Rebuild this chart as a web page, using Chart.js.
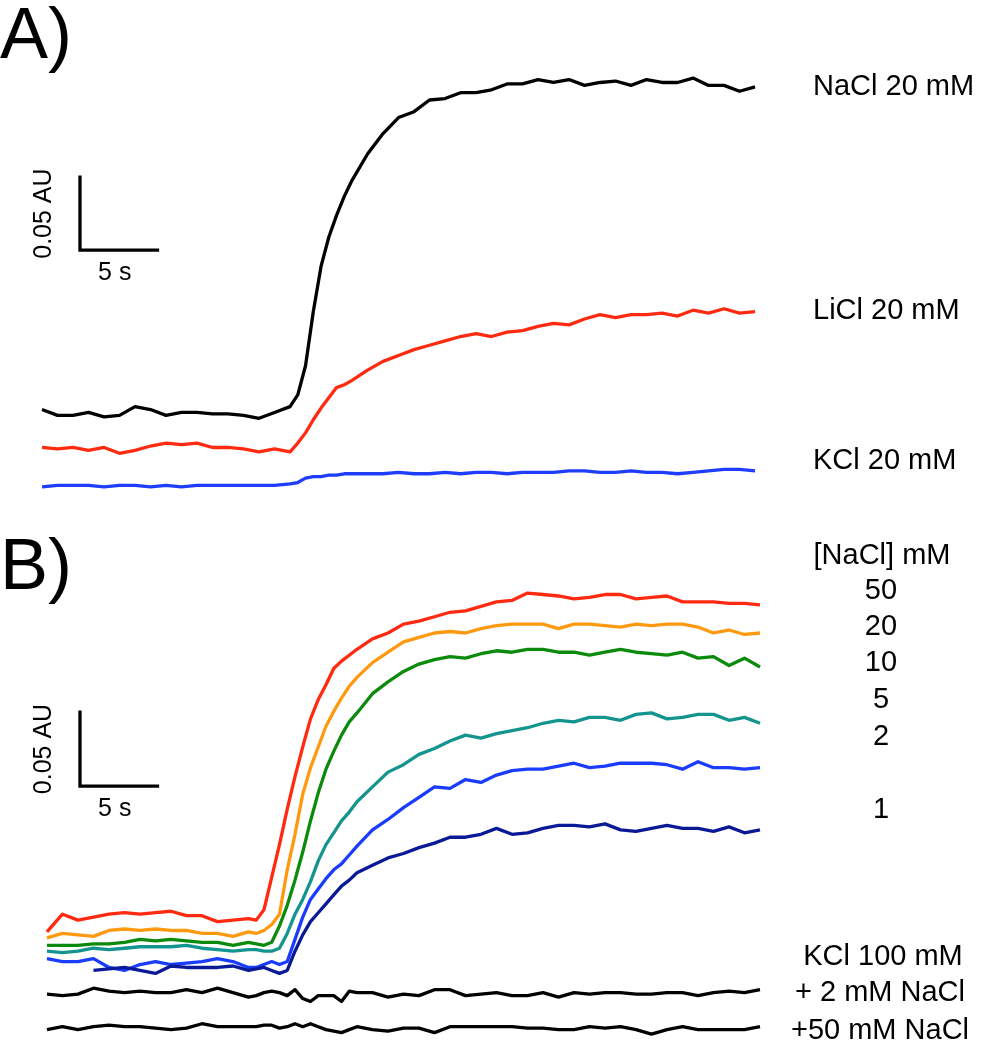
<!DOCTYPE html>
<html>
<head>
<meta charset="utf-8">
<script src="https://cdn.jsdelivr.net/npm/chart.js@4.4.1/dist/chart.umd.min.js"></script>
<style>
  html, body { margin: 0; padding: 0; background: #fff; }
  canvas { display: block; }
</style>
</head>
<body>
<canvas id="panelA" width="995" height="525"></canvas>
<canvas id="panelB" width="995" height="525"></canvas>
<script>
// time in s, absorbance in mAU (traces offset as in the figure)
const timeA = [0,1,2,3,4,5,6,7,8,9,10,11,12,13,14,15,16,16.5,17,17.5,18,18.5,19,19.5,20,
  21,22,23,24,25,26,27,28,29,30,31,32,33,34,35,36,37,38,39,40,41,42,43,44,45,46];

const naclA = [62,58,58,60,57,58,64,62,58,60,60,59,59,58,56,60,64,72,92,129,160,180,195,208,219,
  237,251,262,266,274,275,279,279,281,285,285,288,286,288,284,286,287,284,288,286,286,289,284,284,280,283];
const liclA = [36,35,36,34,36,32,34,37,39,38,39,36,36,35,33,35,33,39,46,55,63,70,77,79,82,
  89,95,99,103,106,109,112,114,112,115,116,119,121,120,124,127,125,127,127,128,126,130,128,131,128,129];
const kclA = [9,10,10,10,9,10,10,9,10,9,10,10,10,10,10,10,11,12,15,16,16,17,17,18,18,
  18,18,19,18,18,19,18,19,19,18,19,19,19,20,20,19,19,20,19,19,18,19,20,21,21,20];

const timeB = [0,1,2,3,4,5,6,7,8,9,10,11,12,13,13.5,14,14.5,15,15.5,16,16.5,17,17.5,18,18.5,19,19.5,20,
  21,22,23,24,25,26,27,28,29,30,31,32,33,34,35,36,37,38,39,40,41,42,43,44,45,46];

const nacl50 = [73,85,81,83,85,86,85,86,87,84,84,80,81,82,81,88,110,132,156,178,198,217,230,240,251,256,260,264,
  271,275,281,283,286,289,290,293,296,297,302,301,300,298,299,301,301,298,299,300,296,296,296,295,295,294];
const nacl20 = [69,72,71,70,74,75,74,75,74,74,72,72,70,73,72,74,78,85,115,139,166,184,198,212,222,231,239,245,
  255,262,269,272,275,276,275,278,280,281,281,281,278,281,281,280,279,281,280,281,281,279,275,277,274,275];
const nacl10 = [64,64,64,65,65,66,68,67,68,67,66,66,64,66,65,64,66,77,91,108,127,148,167,183,195,206,215,221,
  234,242,249,254,257,259,258,261,263,262,264,264,262,262,260,262,264,262,261,260,262,258,259,253,258,252];
const nacl5 = [60,59,60,62,61,62,63,63,63,64,62,61,60,61,61,60,60,62,72,85,95,107,121,132,140,148,154,161,
  171,181,186,193,197,202,206,204,207,209,211,214,216,215,218,218,216,220,221,217,218,220,220,216,218,214];
const nacl2 = [55,53,53,55,49,47,51,53,51,52,53,55,53,49,49,51,53,51,53,68,83,95,102,109,115,119,125,131,
  142,149,157,164,171,170,176,174,179,182,183,183,185,187,184,185,187,187,187,186,183,188,184,184,183,184];
const nacl1 = [null,null,null,47,48,49,47,45,50,49,49,49,50,47,48,49,47,45,47,60,71,80,86,92,98,104,108,113,
  118,123,126,130,133,137,137,139,143,139,140,143,145,145,144,146,142,141,143,145,143,143,141,144,140,142];
const kcl2mM = [31,30,31,35,33,32,33,32,32,34,32,35,32,29,30,32,33,32,30,34,28,26,30,30,30,26,33,32,
  32,29,31,30,34,34,30,31,32,30,30,32,29,32,31,32,32,31,31,32,32,30,32,33,32,34];
const kcl50mM = [7,9,7,9,10,9,9,8,7,8,11,9,9,9,9,10,10,8,9,11,9,11,9,7,6,5,7,9,
  7,6,8,8,5,9,9,9,9,9,8,8,7,7,9,8,9,7,4,7,9,7,7,7,7,9];

// scale bars: 0.05 AU (50 mAU) x 5 s
const barA = { x: [2.45, 2.45, 7.45], y: [221.2, 171.2, 171.2] };
const barB = { x: [2.13, 2.13, 7.13], y: [221.6, 171.6, 171.6] };

const FONT = '"Liberation Sans", Arial, Helvetica, sans-serif';

function pts(t, v) {
  return t.map((x, i) => ({ x, y: v[i] })).filter(p => p.y != null);
}

function trace(label, t, v, color) {
  return {
    label, data: pts(t, v), borderColor: color, borderWidth: 3.3,
    pointRadius: 0, tension: 0, borderJoinStyle: 'round'
  };
}

function scaleBar(bar) {
  return {
    label: 'scale', data: pts(bar.x, bar.y), borderColor: '#000', borderWidth: 3.3,
    pointRadius: 0, tension: 0, borderJoinStyle: 'miter', borderCapStyle: 'square'
  };
}

// panel letter, scale bar captions and trace labels
function textPlugin(spec) {
  return {
    id: 'panelText',
    afterDatasetsDraw(chart) {
      const { ctx, scales } = chart;
      const bx = scales.x.getPixelForValue(spec.bar.x[0]);
      const bx2 = scales.x.getPixelForValue(spec.bar.x[2]);
      const top = scales.y.getPixelForValue(spec.bar.y[0]);
      const bot = scales.y.getPixelForValue(spec.bar.y[1]);
      ctx.save();
      ctx.fillStyle = '#000';
      ctx.textAlign = 'left';
      ctx.textBaseline = 'alphabetic';
      ctx.font = `72px ${FONT}`;
      ctx.fillText(spec.letter, 0, spec.letterY);

      ctx.font = `25px ${FONT}`;
      ctx.textAlign = 'center';
      ctx.textBaseline = 'middle';
      ctx.fillText('5 s', (bx + bx2) / 2 - 4, bot + 23);
      ctx.save();
      ctx.translate(bx - 36, (top + bot) / 2);
      ctx.rotate(-Math.PI / 2);
      ctx.fillText('0.05 AU', 0, 0);
      ctx.restore();

      ctx.font = `${spec.size}px ${FONT}`;
      ctx.textAlign = spec.align;
      spec.labels.forEach(l => ctx.fillText(l.text, l.x, l.y));
      ctx.restore();
    }
  };
}

function makePanel(id, datasets, xr, yr, spec) {
  return new Chart(document.getElementById(id), {
    type: 'line',
    data: { datasets },
    options: {
      responsive: false,
      animation: false,
      layout: { padding: 0 },
      scales: {
        x: { type: 'linear', display: false, min: xr[0], max: xr[1] },
        y: { type: 'linear', display: false, min: yr[0], max: yr[1] }
      },
      plugins: { legend: { display: false }, tooltip: { enabled: false } }
    },
    plugins: [textPlugin(spec)]
  });
}

makePanel('panelA', [
  trace('KCl 20 mM', timeA, kclA, '#1f3dff'),
  trace('LiCl 20 mM', timeA, liclA, '#ff2a10'),
  trace('NaCl 20 mM', timeA, naclA, '#000000'),
  scaleBar(barA)
], [-2.71, 61.48], [-17.1, 342.5], {
  letter: 'A)', letterY: 58, bar: barA, align: 'left', size: 29,
  labels: [
    { text: 'NaCl 20 mM', x: 813, y: 87 },
    { text: 'LiCl 20 mM', x: 813, y: 311 },
    { text: 'KCl 20 mM', x: 813, y: 461 }
  ]
});

makePanel('panelB', [
  trace('+50 mM NaCl', timeB, kcl50mM, '#000000'),
  trace('+ 2 mM NaCl', timeB, kcl2mM, '#000000'),
  trace('1', timeB, nacl1, '#0a1a96'),
  trace('2', timeB, nacl2, '#1a3cff'),
  trace('5', timeB, nacl5, '#14948f'),
  trace('10', timeB, nacl10, '#0c8a0c'),
  trace('20', timeB, nacl20, '#ff9a10'),
  trace('50', timeB, nacl50, '#ff2a10'),
  scaleBar(barB)
], [-3.03, 61.16], [-6.76, 347.97], {
  letter: 'B)', letterY: 64, bar: barB, align: 'center', size: 29,
  labels: [
    { text: '[NaCl] mM', x: 882, y: 31 },
    { text: '50', x: 881, y: 66 },
    { text: '20', x: 881, y: 102 },
    { text: '10', x: 881, y: 138 },
    { text: '5', x: 881, y: 175 },
    { text: '2', x: 881, y: 212 },
    { text: '1', x: 881, y: 285 },
    { text: 'KCl 100 mM', x: 883, y: 432 },
    { text: '+ 2 mM NaCl', x: 880, y: 468 },
    { text: '+50 mM NaCl', x: 880, y: 506 }
  ]
});
</script>
</body>
</html>
